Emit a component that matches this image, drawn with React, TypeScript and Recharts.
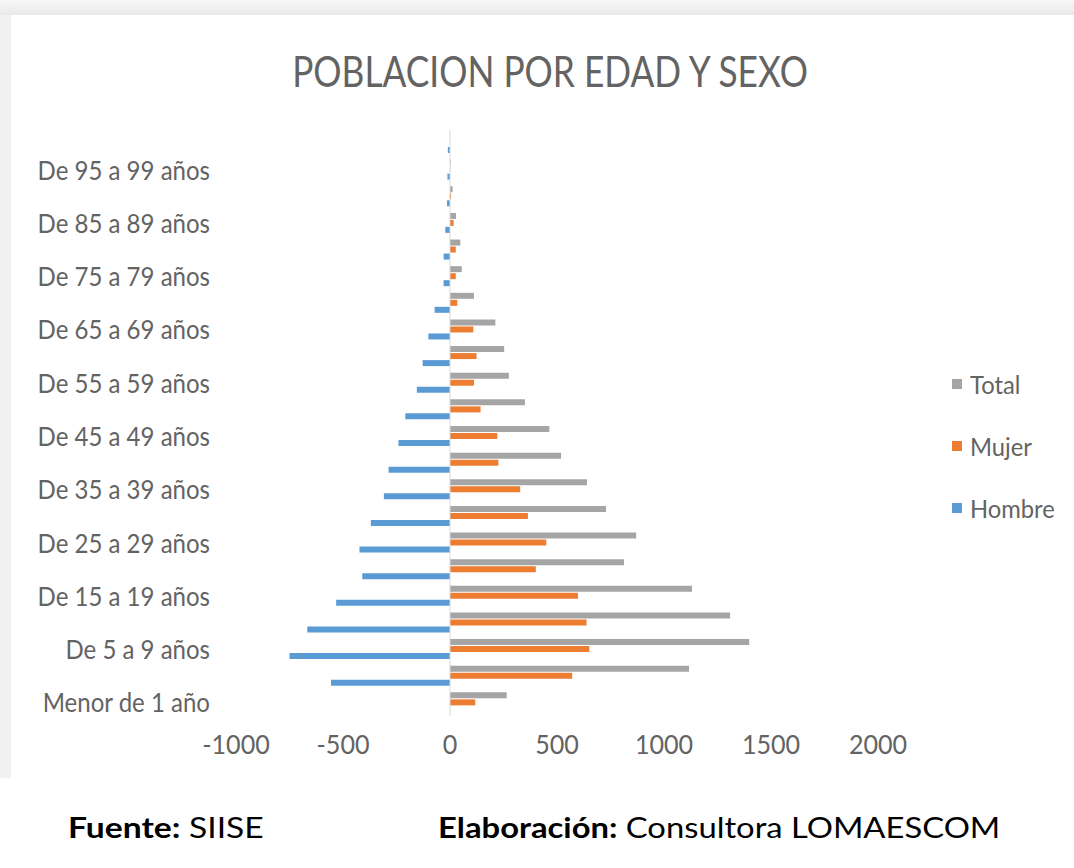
import React from 'react';
import { BarChart, Bar, XAxis, YAxis, ReferenceLine } from 'recharts';

// age groups, bottom to top (index 0 = "Menor de 1 año")
const ageGroups = [
  'Menor de 1 año', 'De 1 a 4 años', 'De 5 a 9 años', 'De 10 a 14 años',
  'De 15 a 19 años', 'De 20 a 24 años', 'De 25 a 29 años', 'De 30 a 34 años',
  'De 35 a 39 años', 'De 40 a 44 años', 'De 45 a 49 años', 'De 50 a 54 años',
  'De 55 a 59 años', 'De 60 a 64 años', 'De 65 a 69 años', 'De 70 a 74 años',
  'De 75 a 79 años', 'De 80 a 84 años', 'De 85 a 89 años', 'De 90 a 94 años',
  'De 95 a 99 años', 'De 100 años y más',
];
const hombre = [0, -556, -750, -667, -532, -410, -423, -370, -309, -287, -241, -209, -155, -128, -101, -72, -30, -30, -22, -14, -12, -10];
const mujer = [118, 571, 651, 638, 598, 401, 450, 364, 328, 226, 221, 143, 112, 124, 109, 34, 27, 27, 17, 5, 1, 0];
const total = [265, 1117, 1398, 1309, 1131, 813, 870, 729, 640, 519, 464, 350, 275, 253, 212, 112, 55, 48, 28, 12, 3, 0];
const xTicks = [-1000, -500, 0, 500, 1000, 1500, 2000];

const series = [
  { key: 'Total', color: '#A5A5A5' },
  { key: 'Mujer', color: '#ED7D31' },
  { key: 'Hombre', color: '#5B9BD5' },
];

const data = ageGroups.map((g, i) => ({
  grupo: g,
  Hombre: hombre[i],
  Mujer: mujer[i],
  Total: total[i],
}));

const font = 'Lato, sans-serif';
const textGray = '#636363';

// squeezed labels, the original uses a narrow face
const YTick = (props: any) => {
  const { x, y, payload } = props;
  return (
    <text
      transform={`translate(${x},${y}) scale(0.89,1)`}
      textAnchor="end"
      dy="0.36em"
      fill={textGray}
      fontSize={27}
      fontFamily={font}
    >
      {payload.value}
    </text>
  );
};

const XTick = (props: any) => {
  const { x, y, payload } = props;
  return (
    <text
      transform={`translate(${x},${y}) scale(0.93,1)`}
      textAnchor="middle"
      dy="0.71em"
      fill={textGray}
      fontSize={27}
      fontFamily={font}
    >
      {payload.value}
    </text>
  );
};

const App: React.FC = () => {
  return (
    <div style={{ position: 'absolute', left: 0, top: 0, width: 1074, height: 868, background: '#fff', overflow: 'hidden' }}>
      {/* frame of the pasted picture */}
      <div style={{ position: 'absolute', left: 0, top: 0, width: 1074, height: 15, background: 'linear-gradient(#f8f8f8, #e9e9e9)' }} />
      <div style={{ position: 'absolute', left: 0, top: 15, width: 11, height: 763, background: '#f1f1f1' }} />

      <div style={{ position: 'absolute', left: 0, top: 46, width: 1100, textAlign: 'center' }}>
        <span style={{ display: 'inline-block', fontFamily: font, fontSize: 42, color: textGray, transform: 'scaleX(0.84)' }}>
          POBLACION POR EDAD Y SEXO
        </span>
      </div>

      <div style={{ position: 'absolute', left: 0, top: 0 }}>
        <BarChart
          width={1074}
          height={790}
          data={data}
          layout="vertical"
          margin={{ top: 130, right: 196, bottom: 34, left: 36 }}
          barSize={6}
          barGap={1}
        >
          <XAxis
            type="number"
            domain={[-1000, 2000]}
            ticks={xTicks}
            axisLine={false}
            tickLine={false}
            tickSize={0}
            tickMargin={19}
            height={40}
            tick={<XTick />}
          />
          <YAxis
            type="category"
            dataKey="grupo"
            reversed
            interval={1}
            width={200}
            axisLine={false}
            tickLine={false}
            tickSize={0}
            tickMargin={26}
            tick={<YTick />}
          />
          <ReferenceLine x={0} stroke="#d9d9d9" />
          {series.map((s) => (
            <Bar key={s.key} dataKey={s.key} fill={s.color} isAnimationActive={false} />
          ))}
        </BarChart>
      </div>

      {/* legend */}
      <div style={{ position: 'absolute', left: 952, top: 368, fontFamily: font, fontSize: 25, color: textGray }}>
        {series.map((s) => (
          <div key={s.key} style={{ display: 'flex', alignItems: 'center', height: 62 }}>
            <span style={{ width: 10, height: 10, background: s.color, marginRight: 8, marginTop: -30 }} />
            <span style={{ marginTop: -30, display: 'inline-block', transform: 'scaleX(0.95)', transformOrigin: 'left center' }}>{s.key}</span>
          </div>
        ))}
      </div>

      <div style={{ position: 'absolute', left: 68, top: 810, fontFamily: font, fontSize: 28, color: '#000', whiteSpace: 'nowrap', transform: 'scaleX(1.2)', transformOrigin: 'left top' }}>
        <b>Fuente:</b> SIISE
      </div>
      <div style={{ position: 'absolute', left: 438, top: 810, fontFamily: font, fontSize: 28, color: '#000', whiteSpace: 'nowrap', transform: 'scaleX(1.17)', transformOrigin: 'left top' }}>
        <b>Elaboración:</b> Consultora LOMAESCOM
      </div>
    </div>
  );
};

export default App;
